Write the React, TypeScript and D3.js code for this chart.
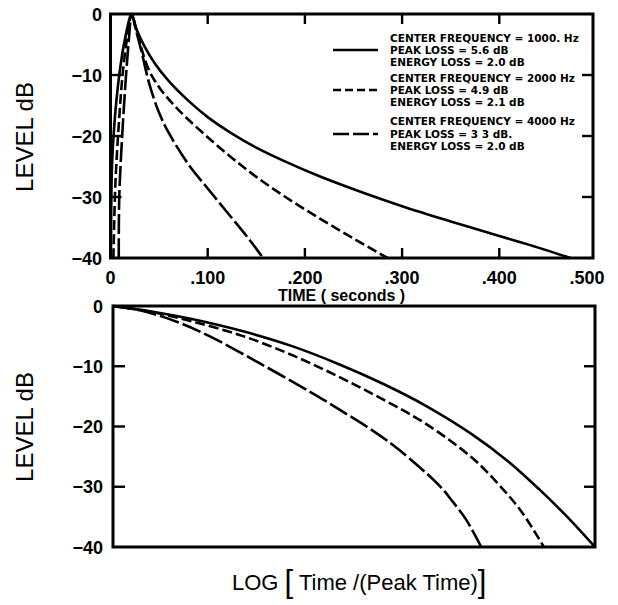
import React from "react";
import * as d3 from "d3";

// ---- Top panel data: level (dB) vs time (seconds)
const t1000 = [0.0005, 0.0015, 0.004, 0.009, 0.015, 0.0218, 0.026, 0.035, 0.046, 0.06, 0.08, 0.1, 0.125, 0.15, 0.18, 0.215, 0.26, 0.3, 0.35, 0.4, 0.44, 0.473];
const db1000 = [-40, -25, -18, -10, -4, 0, -2.2, -5.3, -8.2, -11.0, -14.2, -16.9, -19.6, -21.9, -24.2, -26.6, -29.3, -31.5, -34.0, -36.4, -38.3, -40];
const t2000 = [0.003, 0.005, 0.009, 0.013, 0.018, 0.0218, 0.028, 0.039, 0.05, 0.065, 0.08, 0.1, 0.125, 0.15, 0.18, 0.215, 0.25, 0.285];
const db2000 = [-40, -28, -17, -9, -3, 0, -3.5, -9.0, -12.0, -14.9, -17.3, -20.2, -23.6, -26.7, -30.0, -33.5, -36.8, -40];
const t4000 = [0.0085, 0.009, 0.012, 0.016, 0.019, 0.0218, 0.026, 0.032, 0.04, 0.05, 0.06, 0.08, 0.1, 0.12, 0.14, 0.157];
const db4000 = [-40, -30, -20, -10, -4, 0, -2.5, -6.2, -11.5, -16.2, -19.5, -24.6, -28.6, -32.5, -36.4, -40];

// ---- Bottom panel data: level (dB) vs log(time / peak time), normalised axis
const l1000 = [0, 0.08, 0.166, 0.27, 0.373, 0.47, 0.56, 0.65, 0.745, 0.82, 0.884, 0.94, 1.0];
const lb1000 = [0, -0.9, -2.2, -4.2, -6.7, -9.7, -12.9, -16.6, -21.3, -25.8, -30.4, -34.8, -40];
const l2000 = [0, 0.08, 0.166, 0.27, 0.373, 0.47, 0.56, 0.65, 0.745, 0.8, 0.849, 0.894];
const lb2000 = [0, -1.0, -2.6, -5.0, -8.2, -11.8, -15.5, -19.6, -25.2, -29.6, -34.3, -40];
const l4000 = [0, 0.06, 0.132, 0.2, 0.304, 0.408, 0.47, 0.573, 0.677, 0.705, 0.733, 0.764];
const lb4000 = [0, -0.8, -2.6, -5.0, -9.5, -14.2, -17.2, -22.6, -29.8, -32.5, -35.5, -40];

const timeTicks = [0, 0.1, 0.2, 0.3, 0.4, 0.5];
const timeTickLabels = ["0", ".100", ".200", ".300", ".400", ".500"];
const levelTicks = [0, -10, -20, -30, -40];
const levelTickLabels = ["0", "\u221210", "\u221220", "\u221230", "\u221240"];

const legendLines = [
  ["CENTER FREQUENCY = 1000. Hz", "PEAK LOSS = 5.6  dB", "ENERGY LOSS = 2.0  dB"],
  ["CENTER FREQUENCY = 2000 Hz", "PEAK LOSS = 4.9  dB", "ENERGY LOSS = 2.1  dB"],
  ["CENTER FREQUENCY = 4000 Hz", "PEAK LOSS = 3 3  dB.", "ENERGY LOSS = 2.0  dB"],
];
const dashes = ["none", "10,4", "20,4"];
const legendDashes = ["none", "8,4", "16,4"];

const W = 618, H = 605;

export default function App() {
  // top panel scales
  const xT = d3.scaleLinear().domain([0, 0.5]).range([110.5, 596.5]);
  const yT = d3.scaleLinear().domain([0, -40]).range([14, 258]);
  const topRight = 593;
  // bottom panel scales
  const xB = d3.scaleLinear().domain([0, 1]).range([113, 595]);
  const yB = d3.scaleLinear().domain([0, -40]).range([306, 547]);

  const curve = d3.curveCatmullRom.alpha(0.5);
  const lineT = (ts: number[], ds: number[]) =>
    d3.line<number>().x((i) => xT(ts[i])).y((i) => yT(ds[i])).curve(curve)(ts.map((_, i) => i)) || "";
  const lineB = (ls: number[], ds: number[]) =>
    d3.line<number>().x((i) => xB(ls[i])).y((i) => yB(ds[i])).curve(curve)(ls.map((_, i) => i)) || "";

  const topSeries = [
    [t1000, db1000],
    [t2000, db2000],
    [t4000, db4000],
  ];
  const botSeries = [
    [l1000, lb1000],
    [l2000, lb2000],
    [l4000, lb4000],
  ];

  const tickFont = { fontFamily: "Liberation Sans, Arial, sans-serif", fontWeight: 700, fontSize: 18 };
  const legendY = [[38, 50, 62], [78, 90, 102], [121, 134, 146]];

  return (
    <svg width={W} height={H} style={{ position: "absolute", left: 0, top: 0, background: "#fff" }}>
      <rect x={0} y={0} width={W} height={H} fill="#fff" />
      {/* ---------- TOP PANEL ---------- */}
      <g>
        {topSeries.map(([ts, ds], i) => (
          <path key={i} d={lineT(ts, ds)} fill="none" stroke="#000" strokeWidth={2.6} strokeDasharray={dashes[i]} />
        ))}
        <rect x={xT(0)} y={yT(0)} width={topRight - xT(0)} height={yT(-40) - yT(0)} fill="none" stroke="#000" strokeWidth={3} />
        {timeTicks.slice(1, 5).map((v) => (
          <g key={v}>
            <line x1={xT(v)} x2={xT(v)} y1={yT(-40)} y2={yT(-40) - 10} stroke="#000" strokeWidth={2.4} />
            <line x1={xT(v)} x2={xT(v)} y1={yT(0)} y2={yT(0) + 10} stroke="#000" strokeWidth={2.4} />
          </g>
        ))}
        {levelTicks.slice(1, 4).map((v) => (
          <g key={v}>
            <line x1={xT(0)} x2={xT(0) + 11} y1={yT(v)} y2={yT(v)} stroke="#000" strokeWidth={2.4} />
            <line x1={topRight} x2={topRight - 11} y1={yT(v)} y2={yT(v)} stroke="#000" strokeWidth={2.4} />
          </g>
        ))}
        {levelTicks.map((v, i) => (
          <text key={v} x={102} y={yT(v) + 6.5} textAnchor="end" {...tickFont}>{levelTickLabels[i]}</text>
        ))}
        {timeTicks.map((v, i) => (
          <text key={v} x={i === 5 ? xT(v) + 8 : xT(v)} y={284} textAnchor={i === 5 ? "end" : "middle"} {...tickFont}>
            {timeTickLabels[i]}
          </text>
        ))}
        <text x={278} y={301} fontFamily="Liberation Sans, Arial, sans-serif" fontWeight={700} fontSize={16}>
          TIME ( seconds )
        </text>
        <text transform={`translate(33,137) rotate(-90)`} textAnchor="middle" fontFamily="Liberation Sans, Arial, sans-serif" fontSize={24}>
          LEVEL  dB
        </text>
        {/* legend */}
        {legendLines.map((rows, g) => (
          <g key={g}>
            <line x1={333} x2={378} y1={legendY[g][1]} y2={legendY[g][1]} stroke="#000" strokeWidth={2.6} strokeDasharray={legendDashes[g]} />
            {rows.map((r, k) => (
              <text key={k} x={390} y={legendY[g][k] + 4} fontFamily="DejaVu Sans, sans-serif" fontWeight={700} fontSize={10.5}>
                {r}
              </text>
            ))}
          </g>
        ))}
      </g>

      {/* ---------- BOTTOM PANEL ---------- */}
      <g>
        {botSeries.map(([ls, ds], i) => (
          <path key={i} d={lineB(ls, ds)} fill="none" stroke="#000" strokeWidth={2.6} strokeDasharray={dashes[i]} />
        ))}
        <rect x={xB(0)} y={yB(0)} width={xB(1) - xB(0)} height={yB(-40) - yB(0)} fill="none" stroke="#000" strokeWidth={3} />
        {levelTicks.slice(1, 4).map((v) => (
          <g key={v}>
            <line x1={xB(0)} x2={xB(0) + 12} y1={yB(v)} y2={yB(v)} stroke="#000" strokeWidth={2.4} />
            <line x1={xB(1)} x2={xB(1) - 11} y1={yB(v)} y2={yB(v)} stroke="#000" strokeWidth={2.4} />
          </g>
        ))}
        {levelTicks.map((v, i) => (
          <text key={v} x={103} y={yB(v) + 6.5} textAnchor="end" {...tickFont}>{levelTickLabels[i]}</text>
        ))}
        <text transform={`translate(33,427) rotate(-90)`} textAnchor="middle" fontFamily="Liberation Sans, Arial, sans-serif" fontSize={24}>
          LEVEL  dB
        </text>
        <text x={232} y={590} fontFamily="Liberation Sans, Arial, sans-serif" fontSize={22}>
          LOG <tspan fontSize={31} fontWeight={300} dy={2}>[</tspan>
          <tspan dy={-2}> Time /(Peak Time)</tspan>
          <tspan fontSize={31} fontWeight={300} dy={2}>]</tspan>
        </text>
      </g>
    </svg>
  );
}
